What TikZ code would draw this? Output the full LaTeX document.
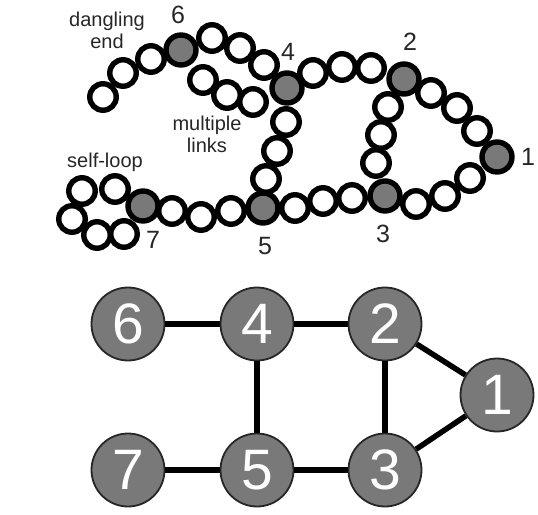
\documentclass[tikz,border=0pt]{standalone}
\usepackage{fontspec}
\setmainfont{Liberation Sans}
\begin{document}
\begin{tikzpicture}[x=1pt,y=-1pt,
  bead/.style={circle,draw=black,fill=white,line width=5.4pt,minimum size=26.5pt,inner sep=0pt},
  hub/.style={circle,draw=black,fill=gray!95!black,line width=5.4pt,minimum size=30pt,inner sep=0pt},
  lbl/.style={font=\fontsize{20}{22}\selectfont,text=black!85,align=center,inner sep=0pt},
  num/.style={font=\fontsize{25}{25}\selectfont,text=black!85,inner sep=0pt},
  gnode/.style={circle,draw=black!85,fill=gray!95!black,line width=1.8pt,minimum size=73pt,inner sep=0pt,text=white,font=\fontsize{57}{57}\selectfont},
  gedge/.style={line width=5.5pt,black}]
\useasboundingbox (0,0) rectangle (538,514);
% white beads
\foreach \n/\x/\y in {d1/103/97,d2/123/73,d3/151/59,
  a1/212/38,a2/240/48,a3/264/65,
  b1/203/80,b2/227/95,b3/253/102,
  c1/313/73,c2/342/67,c3/371/68,
  e1/431/93,e2/457/108,e3/477/131,
  f1/470/178,f2/445/196,f3/416/204,
  g1/388/107,g2/381/135,g3/376/163,
  h1/352/198,h2/323/201,h3/295/208,
  i1/286/122,i2/277/151,i3/266/179,
  j1/231/211,j2/201/217,j3/172/211,
  k1/115/189,k2/82/191,k3/72/219,k4/97/235,k5/124/234}
  \node[bead] (\n) at (\x,\y) {};
% gray beads
\node[hub] (t6) at (181,50) {};
\node[hub] (t4) at (287,88) {};
\node[hub] (t2) at (404,79) {};
\node[hub] (t1) at (497,157) {};
\node[hub] (t3) at (385,196) {};
\node[hub] (t5) at (263,208) {};
\node[hub] (t7) at (143,206) {};
% labels
\node[lbl] (ld) at (107,30) {dangling\\end};
\node[lbl] (lm) at (207,134) {multiple\\links};
\node[lbl] (ls) at (105,162) {self-loop};
\node[num] (n6) at (178,15) {6};
\node[num] (n4) at (288,52) {4};
\node[num] (n2) at (410,42) {2};
\node[num] (n1) at (528,157) {1};
\node[num] (n3) at (383,234) {3};
\node[num] (n5) at (265,246) {5};
\node[num] (n7) at (153,240) {7};
% graph
\node[gnode] (g6) at (128,324) {6};
\node[gnode] (g4) at (257,324) {4};
\node[gnode] (g2) at (385,324) {2};
\node[gnode] (g1) at (497,395) {1};
\node[gnode] (g7) at (128,470) {7};
\node[gnode] (g5) at (257,470) {5};
\node[gnode] (g3) at (385,470) {3};
\draw[gedge] (g6) -- (g4);
\draw[gedge] (g4) -- (g2);
\draw[gedge] (g4) -- (g5);
\draw[gedge] (g7) -- (g5);
\draw[gedge] (g5) -- (g3);
\draw[gedge] (g2) -- (g3);
\draw[gedge] (g2) -- (g1);
\draw[gedge] (g3) -- (g1);
\end{tikzpicture}
\end{document}
